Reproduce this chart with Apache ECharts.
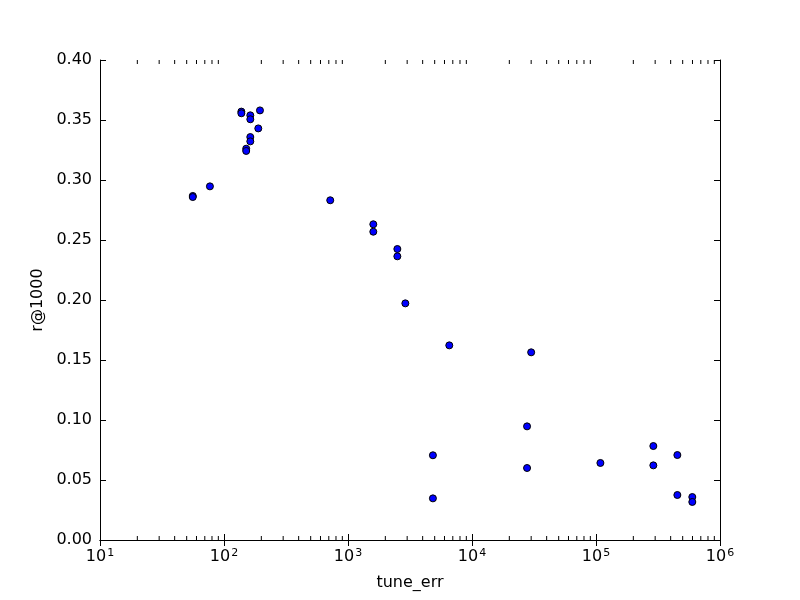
<!DOCTYPE html>
<html>
<head>
<meta charset="utf-8">
<script src="https://cdn.jsdelivr.net/npm/echarts@6/dist/echarts.min.js"></script>
<style>
  html, body { margin: 0; padding: 0; background: #fff; }
  #main { width: 800px; height: 600px; }
</style>
</head>
<body>
<div id="main"></div>
<script>
// tune_err values (x, log scale)
var tuneErr = [
    56, 56, 77,
    138, 138, 163, 163, 195, 189, 163, 163, 151, 151,
    719, 1600, 1600, 2500, 2500, 2900,
    6560, 30000, 27800, 4840, 27800, 4840,
    108500, 290000, 290000, 453000, 453000, 598000, 598000
];
// r@1000 values (y)
var recall = [
    0.2867, 0.2858, 0.2947,
    0.3570, 0.3556, 0.3539, 0.3506, 0.3580, 0.3430, 0.3358, 0.3322, 0.3261, 0.3242,
    0.2831, 0.2631, 0.2569, 0.2425, 0.2364, 0.1972,
    0.1622, 0.1564, 0.0947, 0.0706, 0.0600, 0.0347,
    0.0642, 0.0783, 0.0622, 0.0708, 0.0375, 0.0358, 0.0317
];
var decades = [10, 100, 1000, 10000, 100000];
var minorSteps = [2, 3, 4, 5, 6, 7, 8, 9];
var yMin = 0, yMax = 0.4;

var points = tuneErr.map(function (x, i) { return [x, recall[i]]; });

// minor tick positions of the log axis (bottom and top edge)
var minorBottom = [], minorTop = [];
decades.forEach(function (d) {
    minorSteps.forEach(function (m) {
        minorBottom.push([d * m, yMin]);
        minorTop.push([d * m, yMax]);
    });
});

var font = 'DejaVu Sans';
var axisText = { color: '#000', fontFamily: font, fontSize: 16 };

function tickSeries(data, offset) {
    return {
        type: 'scatter',
        silent: true,
        clip: false,
        data: data,
        symbol: 'rect',
        symbolSize: [1, 4],
        symbolOffset: [0, offset],
        itemStyle: { color: '#000', opacity: 1 },
        z: 3
    };
}

var chart = echarts.init(document.getElementById('main'));
var option = {
    animation: false,
    backgroundColor: '#fff',
    grid: { left: 100, right: 80, top: 60, bottom: 60, containLabel: false },
    xAxis: [{
        type: 'log',
        logBase: 10,
        min: 10,
        max: 1000000,
        name: 'tune_err',
        nameLocation: 'middle',
        nameGap: 35,
        nameTextStyle: axisText,
        axisLine: { lineStyle: { color: '#000', width: 1 } },
        axisTick: { inside: true, length: 6, lineStyle: { color: '#000' } },
        splitLine: { show: false },
        axisLabel: {
            margin: 8,
            formatter: function (v) {
                var e = Math.round(Math.log(v) / Math.LN10);
                return '{b|10}{s|' + e + '}';
            },
            rich: {
                b: { fontFamily: font, fontSize: 16, color: '#000' },
                s: { fontFamily: font, fontSize: 11, color: '#000', verticalAlign: 'top', padding: [0, 0, 6, 1] }
            }
        }
    }, {
        type: 'log',
        logBase: 10,
        min: 10,
        max: 1000000,
        position: 'top',
        axisLine: { lineStyle: { color: '#000', width: 1 } },
        axisTick: { inside: true, length: 6, lineStyle: { color: '#000' } },
        axisLabel: { show: false },
        splitLine: { show: false }
    }],
    yAxis: [{
        type: 'value',
        min: yMin,
        max: yMax,
        interval: 0.05,
        name: 'r@1000',
        nameLocation: 'middle',
        nameGap: 46,
        nameTextStyle: axisText,
        axisLine: { show: true, lineStyle: { color: '#000', width: 1 } },
        axisTick: { show: true, inside: true, length: 6, lineStyle: { color: '#000' } },
        splitLine: { show: false },
        axisLabel: Object.assign({ margin: 8, formatter: function (v) { return v.toFixed(2); } }, axisText)
    }, {
        type: 'value',
        min: yMin,
        max: yMax,
        interval: 0.05,
        position: 'right',
        axisLine: { show: true, lineStyle: { color: '#000', width: 1 } },
        axisTick: { show: true, inside: true, length: 6, lineStyle: { color: '#000' } },
        axisLabel: { show: false },
        splitLine: { show: false }
    }],
    series: [
        tickSeries(minorBottom, -2),
        tickSeries(minorTop, 2),
        {
            type: 'scatter',
            data: points,
            symbol: 'circle',
            symbolSize: 7,
            itemStyle: { color: '#0000ff', borderColor: '#000', borderWidth: 1, opacity: 1 },
            z: 4
        }
    ]
};
chart.setOption(option);
</script>
</body>
</html>
